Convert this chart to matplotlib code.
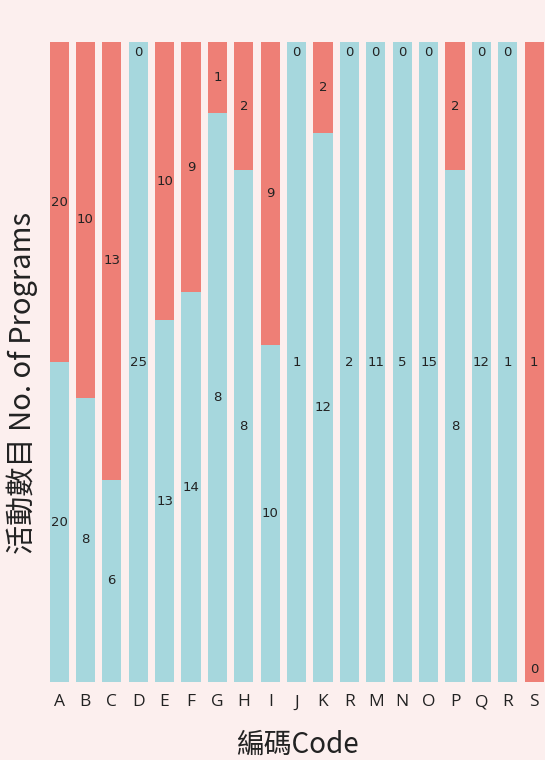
import matplotlib
matplotlib.use("Agg")
import matplotlib.pyplot as plt
import numpy as np

plt.rcParams['font.family'] = ['Noto Sans CJK TC', 'DejaVu Sans']

codes = ["A", "B", "C", "D", "E", "F", "G", "H", "I", "J", "K", "R", "M", "N", "O", "P", "Q", "R", "S"]
blue_values = [20, 8, 6, 25, 13, 14, 8, 8, 10, 1, 12, 2, 11, 5, 15, 8, 12, 1, 0]
red_values = [20, 10, 13, 0, 10, 9, 1, 2, 9, 0, 2, 0, 0, 0, 0, 2, 0, 0, 1]

BG = "#fcefee"
BLUE = "#a6d7dd"
RED = "#ee7f76"

W, H = 545, 760
fig = plt.figure(figsize=(W / 100, H / 100), dpi=100, facecolor=BG)
left_px, right_px, top_px, bot_px = 50, 545, 42, 682
ax = fig.add_axes([left_px / W, 1 - bot_px / H, (right_px - left_px) / W, (bot_px - top_px) / H])
ax.set_facecolor(BG)

blue = np.array(blue_values, dtype=float)
red = np.array(red_values, dtype=float)
tot = blue + red
bf = blue / tot * 100
rf = red / tot * 100
x = np.arange(len(codes))
width = 0.72

ax.bar(x, bf, width=width, color=BLUE, linewidth=0)
ax.bar(x, rf, width=width, bottom=bf, color=RED, linewidth=0)

lab_font = dict(fontsize=9.5, color="#222222", family=["Liberation Sans Narrow", "DejaVu Sans"])
for i in x:
    # blue segment label
    if blue[i] == 0:
        ax.text(i, 1.0, f"{int(blue[i])}", ha="center", va="bottom", **lab_font)
    else:
        ax.text(i, bf[i] / 2, f"{int(blue[i])}", ha="center", va="center", **lab_font)
    # red segment label
    if red[i] == 0:
        ax.text(i, 99.3, f"{int(red[i])}", ha="center", va="top", **lab_font)
    else:
        ax.text(i, bf[i] + rf[i] / 2, f"{int(red[i])}", ha="center", va="center", **lab_font)

spacing = 26.4
first_center = 59
ax.set_xlim((left_px - first_center) / spacing, (right_px - first_center) / spacing)
ax.set_ylim(0, 100)
ax.set_xticks(x)
ax.set_xticklabels(codes, fontsize=12.5, color="#222222", family=["Open Sans", "DejaVu Sans"])
ax.tick_params(axis="x", length=0, pad=9)
ax.set_yticks([])
for s in ax.spines.values():
    s.set_visible(False)

fig.text(297 / W, 1 - 745 / H, "編碼Code", ha="center", va="center", fontsize=20,
         color="#222222", fontweight="light")
fig.text(22 / W, 1 - 383 / H, "活動數目 No. of Programs", ha="center", va="center",
         rotation=90, fontsize=21, color="#222222", fontweight="light")

fig.savefig("out.png", dpi=100, facecolor=BG)
